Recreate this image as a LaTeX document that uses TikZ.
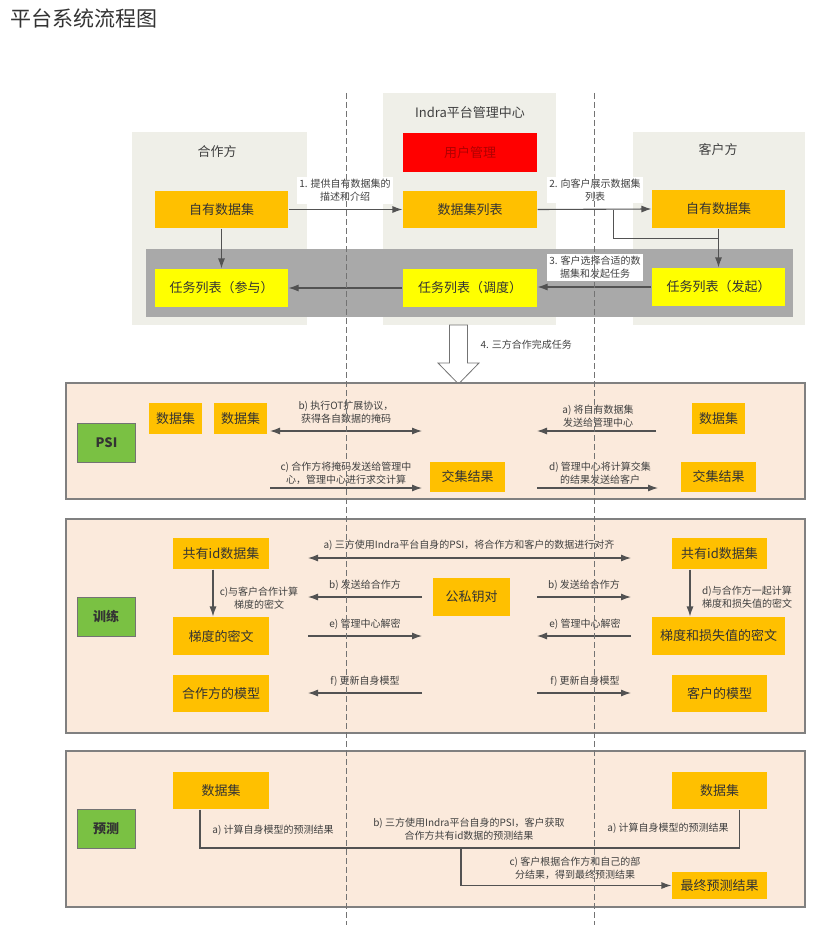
\documentclass[tikz,border=0pt]{standalone}
\usepackage{fontspec}
\setmainfont{Noto Sans CJK SC}
\usetikzlibrary{arrows.meta}
\definecolor{topgray}{HTML}{EFEFE8}
\definecolor{bandgray}{HTML}{A9A9A9}
\definecolor{boxorange}{HTML}{FFC000}
\definecolor{taskyellow}{HTML}{FFFF00}
\definecolor{userred}{HTML}{FF0000}
\definecolor{userdark}{HTML}{B00000}
\definecolor{stagegreen}{HTML}{7AC143}
\definecolor{peach}{HTML}{FBEADC}
\begin{document}
\begin{tikzpicture}[x=1pt, y=-1pt, line width=1.1pt, >={Latex[length=10pt,width=7pt]},
  every node/.style={text=black!80, inner sep=0pt},
  box/.style={fill=boxorange, font=\fontsize{13}{15}\selectfont},
  task/.style={fill=taskyellow, font=\fontsize{13}{15}\selectfont},
  stage/.style={fill=stagegreen, draw=black!55, line width=1pt, font=\bfseries\fontsize{13}{15}\selectfont, minimum width=58pt, minimum height=39pt},
  head/.style={font=\fontsize{13}{15}\selectfont, text=black!75},
  note/.style={font=\fontsize{10}{13}\selectfont, align=center, text=black!75},
  flow/.style={draw=black!68, ->},
  wire/.style={draw=black!68},
  section/.style={fill=peach, draw=black!50, line width=1.1pt}]
  \useasboundingbox (0,0) rectangle (821,931);
  \node[anchor=west, font=\fontsize{21}{24}\selectfont, text=black!80] (title) at (10,18) {平台系统流程图};

  % three parties
  \fill[topgray] (132,132) rectangle (307,325);
  \fill[topgray] (383,93) rectangle (556,325);
  \fill[topgray] (633,132) rectangle (805,325);
  \fill[bandgray] (146,249) rectangle (793,317);
  \node[head] (hpart) at (217,152) {合作方};
  \node[head] (hcenter) at (470,113) {Indra平台管理中心};
  \node[head] (hclient) at (718,150) {客户方};
  \node[fill=userred, text=userdark, font=\fontsize{13}{15}\selectfont, minimum width=134pt, minimum height=39pt] (user) at (470,152.5) {用户管理};
  \node[box, minimum width=133pt, minimum height=37pt] (pown) at (221.5,209.5) {自有数据集};
  \node[box, minimum width=134pt, minimum height=37pt] (dlist) at (470,209.5) {数据集列表};
  \node[box, minimum width=133pt, minimum height=38pt] (cown) at (718.5,209) {自有数据集};
  \node[task, minimum width=133pt, minimum height=38pt] (tjoin) at (221.5,288) {任务列表（参与）};
  \node[task, minimum width=134pt, minimum height=38pt] (tsched) at (470,288) {任务列表（调度）};
  \node[task, minimum width=133pt, minimum height=38pt] (tinit) at (718.5,287) {任务列表（发起）};
  \draw[flow] (pown.east) -- (dlist.west);
  \draw[flow] (dlist.east) -- (cown.west);
  \draw[flow] (pown.south) -- (tjoin.north);
  \draw[flow] (cown.south) -- (tinit.north);
  \draw[wire] ([xshift=76pt]dlist.east) |- ([yshift=-10pt]cown.south);
  \draw[flow] (tinit.west) -- (tsched.east |- tinit.west);
  \draw[flow] (tsched.west) -- (tjoin.east);
  \node[note, fill=white, inner sep=2pt] (n1) at (345,190.5) {1. 提供自有数据集的\\描述和介绍};
  \node[note, fill=white, inner sep=2pt] (n2) at (595,190) {2. 向客户展示数据集\\列表};
  \node[note, fill=white, inner sep=2pt] (n3) at (595,267.5) {3. 客户选择合适的数\\据集和发起任务};

  % hand over to the three stages
  \draw[draw=black!55, fill=white, line width=0.8pt] (449.5,325) -- (467.5,325) -- (467.5,363) -- (479,363) -- (458.5,384) -- (438,363) -- (449.5,363) -- cycle;
  \node[note, anchor=west] (n4) at (480,345) {4. 三方合作完成任务};

  % PSI
  \draw[section] (66,383) rectangle (805,499);
  \node[stage] (gpsi) at (106.5,442.5) {PSI};
  \node[box, minimum width=53pt, minimum height=31pt] (pds1) at (175.5,418.5) {数据集};
  \node[box, minimum width=53pt, minimum height=31pt] (pds2) at (240.5,418.5) {数据集};
  \node[box, minimum width=53pt, minimum height=31pt] (cds) at (718.5,418.5) {数据集};
  \node[box, minimum width=75pt, minimum height=30pt] (mres) at (467.5,477) {交集结果};
  \node[box, minimum width=75pt, minimum height=30pt] (cres) at (718.5,477) {交集结果};
  \coordinate (psiL) at (270,431);
  \coordinate (psiM) at (422,431);
  \coordinate (psiN) at (537,431);
  \coordinate (psiR) at (656,431);
  \draw[flow, <->] (psiL) -- (psiM);
  \draw[flow] (psiR) -- (psiN);
  \draw[flow] (psiL |- 0,488) -- (psiM |- 0,488);
  \draw[flow] (psiN |- 0,488) -- (658,488);
  \node[note] (nb) at (346,412) {b) 执行OT扩展协议，\\获得各自数据的掩码};
  \node[note] (na) at (598,416) {a) 将自有数据集\\发送给管理中心};
  \node[note] (nc) at (346,473) {c) 合作方将掩码发送给管理中\\心，管理中心进行求交计算};
  \node[note] (nd) at (600,473) {d) 管理中心将计算交集\\的结果发送给客户};

  % training
  \draw[section] (66,519) rectangle (805,733);
  \node[stage] (gtrain) at (106,616.5) {训练};
  \node[box, minimum width=96pt, minimum height=31pt] (pid) at (221,553.5) {共有id数据集};
  \node[box, minimum width=96pt, minimum height=38pt] (pgrad) at (221,636) {梯度的密文};
  \node[box, minimum width=96pt, minimum height=37pt] (pmodel) at (221,693.5) {合作方的模型};
  \node[box, minimum width=77pt, minimum height=38pt] (keys) at (471.5,597) {公私钥对};
  \node[box, minimum width=95pt, minimum height=31pt] (cid) at (719.5,553.5) {共有id数据集};
  \node[box, minimum width=133pt, minimum height=38pt] (cgrad) at (718.5,636) {梯度和损失值的密文};
  \node[box, minimum width=95pt, minimum height=37pt] (cmodel) at (719.5,693.5) {客户的模型};
  \draw[flow] ([xshift=-8pt]pid.south) -- ([xshift=-8pt]pgrad.north);
  \draw[flow] ([xshift=-29.5pt]cid.south) -- ([xshift=-29.5pt]cid.south |- cgrad.north);
  \coordinate (trL) at (308,558);
  \coordinate (trM) at (422,558);
  \coordinate (trN) at (537,558);
  \coordinate (trR) at (631,558);
  \draw[flow, <->] (trL) -- (trR);
  \draw[flow] (trM |- 0,597) -- (trL |- 0,597);
  \draw[flow] (trN |- 0,597) -- (trR |- 0,597);
  \draw[flow] (trL |- 0,636) -- (trM |- 0,636);
  \draw[flow] (trR |- 0,636) -- (trN |- 0,636);
  \draw[flow] (trM |- 0,693) -- (trL |- 0,693);
  \draw[flow] (trN |- 0,693) -- (trR |- 0,693);
  \node[note] (ta) at (469,545) {a) 三方使用Indra平台自身的PSI，将合作方和客户的数据进行对齐};
  \node[note] (tb1) at (365,585) {b) 发送给合作方};
  \node[note] (tb2) at (584,585) {b) 发送给合作方};
  \node[note] (te1) at (365,624) {e) 管理中心解密};
  \node[note] (te2) at (585,624) {e) 管理中心解密};
  \node[note] (tf1) at (365,681) {f) 更新自身模型};
  \node[note] (tf2) at (585,681) {f) 更新自身模型};
  \node[note] (tc) at (259,598) {c)与客户合作计算\\梯度的密文};
  \node[note] (td) at (747,597) {d)与合作方一起计算\\梯度和损失值的密文};

  % prediction
  \draw[section] (66,751) rectangle (805,907);
  \node[stage] (gpred) at (106,828.5) {预测};
  \node[box, minimum width=96pt, minimum height=37pt] (pset) at (221,790.5) {数据集};
  \node[box, minimum width=95pt, minimum height=37pt] (cset) at (719.5,790.5) {数据集};
  \node[box, minimum width=95pt, minimum height=27pt] (final) at (719.5,885.5) {最终预测结果};
  \coordinate (join) at (461,848);
  \draw[wire] ([xshift=-21pt]pset.south) |- (join) -| ([xshift=20pt]cset.south);
  \draw[flow] (join) |- (final.west);
  \node[note] (pa1) at (273,830) {a) 计算自身模型的预测结果};
  \node[note] (pa2) at (668,828) {a) 计算自身模型的预测结果};
  \node[note] (pb) at (469,829.5) {b) 三方使用Indra平台自身的PSI，客户获取\\合作方共有id数据的预测结果};
  \node[note] (pc) at (575,868) {c) 客户根据合作方和自己的部\\分结果，得到最终预测结果};

  % lanes
  \draw[black!55, line width=1pt, dash pattern=on 6pt off 3pt] (346,93) -- (346,925);
  \draw[black!55, line width=1pt, dash pattern=on 6pt off 3pt] (594,93) -- (594,925);
\end{tikzpicture}
\end{document}
